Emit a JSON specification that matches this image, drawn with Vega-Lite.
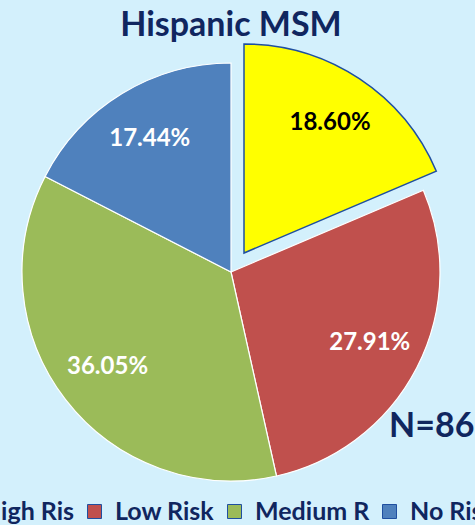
{
  "$schema": "https://vega.github.io/schema/vega-lite/v6.json",
  "width": 462,
  "height": 454,
  "autosize": {"type": "none"},
  "padding": {"left": 0, "top": 45, "right": 13, "bottom": 26},
  "background": "#D3F0FC",
  "config": {"view": {"stroke": null}},
  "title": {"text": "Hispanic MSM", "font": "Lato", "fontSize": 34, "fontWeight": "bold", "color": "#10265F", "anchor": "middle", "offset": -2},
  "datasets": {
    "shares": [
      {"category": "High Risk", "pct": 18.60, "label": "18.60%"},
      {"category": "Low Risk", "pct": 27.91, "label": "27.91%"},
      {"category": "Medium Risk", "pct": 36.05, "label": "36.05%"},
      {"category": "No Risk", "pct": 17.44, "label": "17.44%"}
    ],
    "note": [{"text": "N=86"}]
  },
  "layer": [
    {
      "data": {"name": "shares"},
      "mark": {"type": "arc", "radius": 209, "stroke": "#FFFFFF", "strokeWidth": 1.2},
      "encoding": {
        "theta": {"field": "pct", "type": "quantitative", "stack": true},
        "order": {"field": "category", "type": "ordinal"},
        "color": {
          "field": "category", "type": "nominal",
          "scale": {"domain": ["High Risk", "Low Risk", "Medium Risk", "No Risk"], "range": ["#FFFF00", "#C0504D", "#9BBB59", "#4F81BD"]},
          "legend": {
            "orient": "none", "legendX": -51, "legendY": 454, "direction": "horizontal", "columns": 4, "gridAlign": "none",
            "title": null, "padding": 0,
            "labelFont": "Lato", "labelFontSize": 25, "labelFontWeight": "bold", "labelColor": "#10265F",
            "labelExpr": "substring(datum.label, 0, 8)", "labelLimit": 400, "labelOffset": 8,
            "symbolType": "square", "symbolSize": 196, "symbolOpacity": 1,
            "symbolStrokeColor": "#FFFFFF", "symbolStrokeWidth": 1, "columnPadding": 7
          }
        },
        "opacity": {"condition": {"test": "datum.category === 'High Risk'", "value": 0}, "value": 1}
      }
    },
    {
      "data": {"name": "shares"},
      "mark": {"type": "arc", "radius": 209, "stroke": "#1F4FA0", "strokeWidth": 1.5, "xOffset": 13, "yOffset": -19},
      "encoding": {
        "theta": {"field": "pct", "type": "quantitative", "stack": true},
        "order": {"field": "category", "type": "ordinal"},
        "color": {"field": "category", "type": "nominal"},
        "opacity": {"condition": {"test": "datum.category === 'High Risk'", "value": 1}, "value": 0}
      }
    },
    {
      "data": {"name": "shares"},
      "mark": {"type": "text", "radius": 156, "font": "Lato", "fontSize": 24, "fontWeight": "bold", "align": "center", "baseline": "middle"},
      "encoding": {
        "theta": {"field": "pct", "type": "quantitative", "stack": true},
        "order": {"field": "category", "type": "ordinal"},
        "text": {"field": "label", "type": "nominal"},
        "color": {"value": "#FFFFFF"},
        "opacity": {"condition": {"test": "datum.category === 'High Risk'", "value": 0}, "value": 1}
      }
    },
    {
      "data": {"name": "shares"},
      "mark": {"type": "text", "radius": 156, "font": "Lato", "fontSize": 24, "fontWeight": "bold", "align": "center", "baseline": "middle", "xOffset": 13, "yOffset": -19},
      "encoding": {
        "theta": {"field": "pct", "type": "quantitative", "stack": true},
        "order": {"field": "category", "type": "ordinal"},
        "text": {"field": "label", "type": "nominal"},
        "color": {"value": "#000000"},
        "opacity": {"condition": {"test": "datum.category === 'High Risk'", "value": 1}, "value": 0}
      }
    },
    {
      "data": {"name": "note"},
      "mark": {"type": "text", "align": "left", "baseline": "alphabetic", "dx": 158, "dy": 165, "font": "Lato", "fontSize": 34, "fontWeight": "bold", "color": "#10265F"},
      "encoding": {"text": {"field": "text", "type": "nominal"}}
    }
  ]
}
